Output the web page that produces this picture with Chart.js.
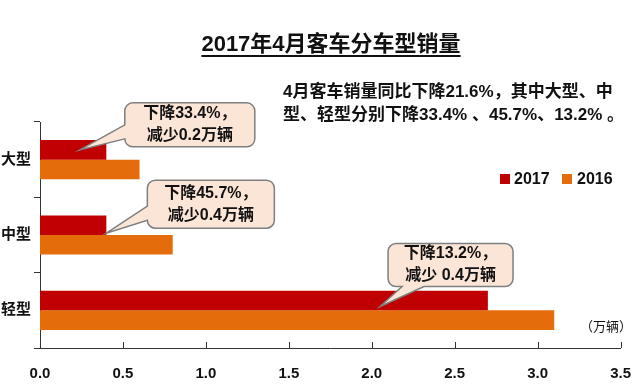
<!DOCTYPE html>
<html>
<head>
<meta charset="utf-8">
<script src="https://cdn.jsdelivr.net/npm/chart.js@4"></script>
<style>
  body { margin: 0; background: #fff; }
  #wrap { width: 640px; height: 392px; position: relative; }
</style>
</head>
<body>
<div id="wrap"><canvas id="myChart"></canvas></div>
<script>
// 数据
const categories = ['大型', '中型', '轻型'];
const seriesNames = ['2017', '2016'];
const sales2017 = [0.4, 0.4, 2.7];
const sales2016 = [0.6, 0.8, 3.1];
const titleText = '2017年4月客车分车型销量';
const noteLines = ['4月客车销量同比下降21.6%，其中大型、中', '型、轻型分别下降33.4% 、45.7%、13.2% 。'];
const unitText = '（万辆）';
const calloutLines = [
  ['下降33.4%，', '减少0.2万辆'],
  ['下降45.7%，', '减少0.4万辆'],
  ['下降13.2%，', '减少 0.4万辆']
];
const calloutTips = [0.24, 0.4, 2.05]; // 指向的数值位置（万辆）

const RED = '#c00000';
const ORANGE = '#e46c0a';
const FONT = '"Liberation Sans", "Noto Sans CJK SC", sans-serif';

// 气泡框路径
function calloutPath(c, l, t, w, h, r, side, a, b, tip) {
  const R = l + w, B = t + h;
  c.beginPath();
  c.moveTo(l + r, t);
  c.arcTo(R, t, R, B, r);
  c.arcTo(R, B, l, B, r);
  if (side === 'bottom') { c.lineTo(l + b, B); c.lineTo(tip.x, tip.y); c.lineTo(l + a, B); }
  c.arcTo(l, B, l, t, r);
  if (side === 'left') { c.lineTo(l, t + b); c.lineTo(tip.x, tip.y); c.lineTo(l, t + a); }
  c.arcTo(l, t, R, t, r);
  c.closePath();
}

const extras = {
  id: 'extras',
  afterDraw(chart) {
    const c = chart.ctx;
    const x = chart.scales.x;
    const area = chart.chartArea;
    c.save();

    // x轴刻度（向内）
    c.strokeStyle = '#333';
    c.lineWidth = 1;
    for (let v = 0.5; v <= 3.5; v += 0.5) {
      const px = Math.round(x.getPixelForValue(v)) + 0.5;
      c.beginPath();
      c.moveTo(px, area.bottom);
      c.lineTo(px, area.bottom - 6);
      c.stroke();
    }

    // 标题
    c.fillStyle = '#111';
    c.font = 'bold 22px ' + FONT;
    c.textAlign = 'center';
    c.textBaseline = 'alphabetic';
    c.fillText(titleText, 331, 51);
    const tw = c.measureText(titleText).width;
    c.fillRect(331 - tw / 2, 55, tw, 2);

    // 说明文字
    c.font = 'bold 17px ' + FONT;
    c.textAlign = 'left';
    c.textBaseline = 'middle';
    c.fillText(noteLines[0], 283, 92);
    c.fillText(noteLines[1], 283, 115);

    // 图例
    c.fillStyle = RED;
    c.fillRect(500, 174, 10, 10);
    c.fillStyle = ORANGE;
    c.fillRect(562, 174, 10, 10);
    c.fillStyle = '#111';
    c.font = 'bold 16px ' + FONT;
    c.fillText(seriesNames[0], 514, 180);
    c.fillText(seriesNames[1], 577, 180);

    // 单位
    c.font = '13px ' + FONT;
    c.fillText(unitText, 580, 327);

    // 气泡框
    const meta = chart.getDatasetMeta(0);
    const boxes = [
      { dy: 0, dx: 45, top: -47, w: 130, h: 44, side: 'left', a: 22, b: 36 },
      { dy: 8, dx: 41, top: -53, w: 127, h: 48, side: 'left', a: 26, b: 40 },
      { dy: 6, dx: 8, top: -63, w: 125, h: 43, side: 'bottom', a: 14, b: 36 }
    ];
    boxes.forEach((bx, i) => {
      const tip = { x: x.getPixelForValue(calloutTips[i]), y: meta.data[i].y + bx.dy };
      const l = tip.x + bx.dx, t = tip.y + bx.top;
      calloutPath(c, l, t, bx.w, bx.h, 8, bx.side, bx.a, bx.b, tip);
      c.fillStyle = '#fbe5d6';
      c.fill();
      c.strokeStyle = '#7f7f7f';
      c.lineWidth = 1.5;
      c.stroke();
      c.fillStyle = '#111';
      c.font = 'bold 16px ' + FONT;
      c.textAlign = 'center';
      c.fillText(calloutLines[i][0], l + bx.w / 2, t + bx.h / 2 - 11);
      c.fillText(calloutLines[i][1], l + bx.w / 2, t + bx.h / 2 + 11);
    });
    c.restore();
  }
};

new Chart(document.getElementById('myChart'), {
  type: 'bar',
  data: {
    labels: categories,
    datasets: [
      { label: seriesNames[0], data: sales2017, backgroundColor: RED },
      { label: seriesNames[1], data: sales2016, backgroundColor: ORANGE }
    ]
  },
  options: {
    indexAxis: 'y',
    responsive: true,
    maintainAspectRatio: false,
    animation: false,
    categoryPercentage: 0.52,
    barPercentage: 1.0,
    layout: { padding: { top: 122, right: 19, bottom: 0, left: 0 } },
    plugins: { legend: { display: false }, tooltip: { enabled: false }, title: { display: false } },
    scales: {
      x: {
        min: 0, max: 3.5,
        grid: { display: false },
        border: { display: true, color: '#333', width: 1 },
        ticks: {
          stepSize: 0.5,
          padding: 9,
          color: '#111',
          font: { family: FONT, size: 15, weight: 'bold' },
          callback: v => Number(v).toFixed(1)
        },
        afterFit: s => { s.height = 44; }
      },
      y: {
        grid: { drawOnChartArea: false, tickLength: 6, color: '#333' },
        border: { display: true, color: '#333', width: 1 },
        ticks: {
          padding: 3,
          color: '#111',
          font: { family: FONT, size: 15, weight: 'bold' }
        },
        afterFit: s => { s.width = 40; }
      }
    }
  },
  plugins: [extras]
});
</script>
</body>
</html>
